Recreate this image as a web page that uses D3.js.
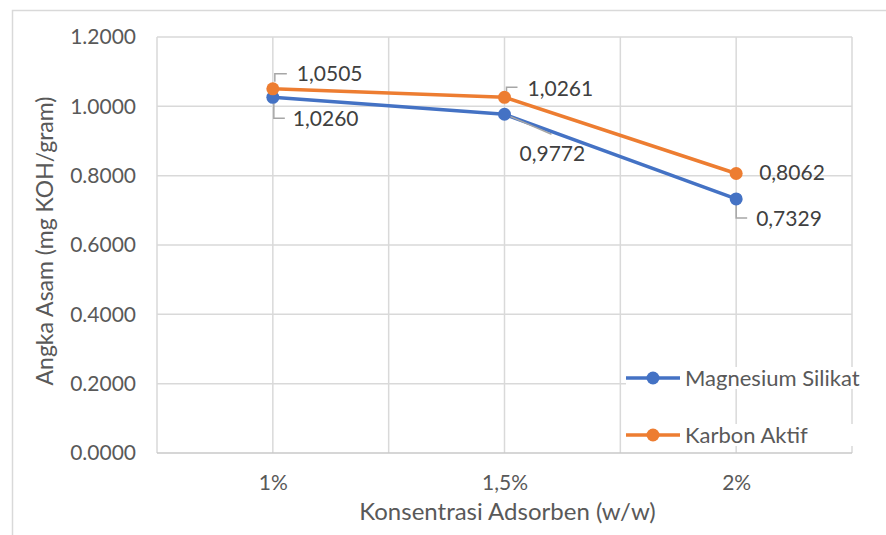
<!DOCTYPE html>
<html>
<head>
<meta charset="utf-8">
<script src="https://cdn.jsdelivr.net/npm/d3@7"></script>
<style>
  body { margin: 0; background: #fff; }
  svg { display: block; font-family: Lato, "Noto Sans", sans-serif; }
</style>
</head>
<body>
<svg id="chart" width="886" height="535"></svg>
<script>
// data
const categories = ['1%', '1,5%', '2%'];
const magnesiumSilikat = [1.0260, 0.9772, 0.7329];
const karbonAktif = [1.0505, 1.0261, 0.8062];
const yTicks = [0, 0.2, 0.4, 0.6, 0.8, 1.0, 1.2];

const series = [
  { name: 'Magnesium Silikat', values: magnesiumSilikat, color: '#4472C4' },
  { name: 'Karbon Aktif', values: karbonAktif, color: '#ED7D31' }
];

// where each data label sits relative to its point (leader = polyline offsets)
const labelPlacement = {
  'Karbon Aktif': [
    { dx: 24, dy: -15, leader: [[2, -7], [2, -15], [14, -15]] },
    { dx: 23, dy: -9, leader: [[2, -6], [2, -10], [13, -10]] },
    { dx: 23, dy: -1, leader: null }
  ],
  'Magnesium Silikat': [
    { dx: 20, dy: 21, leader: [[1, 6], [1, 21], [12, 21]] },
    { dx: 15, dy: 39, leader: [[3, 1], [47, 20]] },
    { dx: 20, dy: 20, leader: [[0, 6], [0, 19], [11, 19]] }
  ]
};

const textColor = '#595959';
const gridColor = '#D9D9D9';
const fontSize = 21;

const svg = d3.select('#chart');
const margin = { left: 157, right: 852, top: 37, bottom: 453 };

// outer chart frame (only top and left edges fall inside the picture)
svg.append('rect')
  .attr('x', 12.5).attr('y', 10.5)
  .attr('width', 900).attr('height', 600)
  .attr('fill', 'none')
  .attr('stroke', gridColor)
  .attr('stroke-width', 1.5);

const xBand = d3.scaleBand()
  .domain(categories)
  .range([margin.left, margin.right]);

const xScale = d3.scalePoint()
  .domain(categories)
  .range([margin.left, margin.right])
  .padding(0.5);

const yScale = d3.scaleLinear()
  .domain([0, 1.2])
  .range([margin.bottom, margin.top]);

// gridlines
const grid = svg.append('g');
grid.selectAll('line.h')
  .data(yTicks.filter(d => d > 0))
  .enter().append('line')
  .attr('x1', margin.left).attr('x2', margin.right)
  .attr('y1', d => yScale(d)).attr('y2', d => yScale(d))
  .attr('stroke', gridColor).attr('stroke-width', 1.5);

const vLines = [];
categories.forEach(c => {
  vLines.push(xBand(c));
  vLines.push(xBand(c) + xBand.bandwidth() / 2);
});
vLines.push(margin.right);
grid.selectAll('line.v')
  .data(vLines)
  .enter().append('line')
  .attr('x1', d => d).attr('x2', d => d)
  .attr('y1', margin.top).attr('y2', margin.bottom)
  .attr('stroke', gridColor).attr('stroke-width', 1.5);

// x axis line
svg.append('line')
  .attr('x1', margin.left).attr('x2', margin.right)
  .attr('y1', margin.bottom).attr('y2', margin.bottom)
  .attr('stroke', '#C8C8C8').attr('stroke-width', 1.5);

// y axis labels
const yAxis = svg.append('g')
  .attr('transform', `translate(${margin.left},0)`)
  .call(d3.axisLeft(yScale)
    .tickValues(yTicks)
    .tickFormat(d3.format('.4f'))
    .tickSize(0)
    .tickPadding(21));
yAxis.select('.domain').remove();
yAxis.selectAll('text')
  .attr('fill', textColor)
  .style('font-size', fontSize + 'px')
  .style('font-family', 'Lato');

// x axis labels
const xAxis = svg.append('g')
  .attr('transform', `translate(0,${margin.bottom})`)
  .call(d3.axisBottom(xScale).tickSize(0).tickPadding(22));
xAxis.select('.domain').remove();
xAxis.selectAll('text')
  .attr('fill', textColor)
  .style('font-size', fontSize + 'px')
  .style('font-family', 'Lato');

// axis titles
svg.append('text')
  .attr('transform', `translate(53,${(margin.top + margin.bottom) / 2 - 4}) rotate(-90)`)
  .attr('text-anchor', 'middle')
  .attr('fill', textColor)
  .style('font-size', '23px')
  .text('Angka Asam (mg KOH/gram)');

svg.append('text')
  .attr('x', (margin.left + margin.right) / 2 + 3)
  .attr('y', 520)
  .attr('text-anchor', 'middle')
  .attr('fill', textColor)
  .style('font-size', '24px')
  .text('Konsentrasi Adsorben (w/w)');

// legend (white boxes hide the gridlines behind the entries)
const legendY = [378, 435];
const legend = svg.append('g');
series.forEach((s, i) => {
  const g = legend.append('g').attr('transform', `translate(626,${legendY[i]})`);
  g.append('rect')
    .attr('x', 0).attr('y', -11).attr('width', 236).attr('height', 22)
    .attr('fill', '#fff');
  g.append('line')
    .attr('x1', 0).attr('x2', 54).attr('y1', 0).attr('y2', 0)
    .attr('stroke', s.color).attr('stroke-width', 3.5);
  g.append('circle')
    .attr('cx', 27).attr('cy', 0).attr('r', 6.5)
    .attr('fill', s.color);
  g.append('text')
    .attr('x', 59).attr('y', 0)
    .attr('dy', '0.36em')
    .attr('fill', textColor)
    .style('font-size', '22px')
    .text(s.name);
});

// lines and markers
const lineGen = d3.line()
  .x((d, i) => xScale(categories[i]))
  .y(d => yScale(d));

series.forEach(s => {
  svg.append('path')
    .datum(s.values)
    .attr('d', lineGen)
    .attr('fill', 'none')
    .attr('stroke', s.color)
    .attr('stroke-width', 3.5)
    .attr('stroke-linejoin', 'round');
});

// leader lines and data labels
const fmt = v => d3.format('.4f')(v).replace('.', ',');
series.forEach(s => {
  s.values.forEach((v, i) => {
    const px = xScale(categories[i]);
    const py = yScale(v);
    const p = labelPlacement[s.name][i];
    if (p.leader) {
      svg.append('polyline')
        .attr('points', p.leader.map(o => [px + o[0], py + o[1]].join(',')).join(' '))
        .attr('fill', 'none')
        .attr('stroke', '#A6A6A6')
        .attr('stroke-width', 1.5);
    }
    svg.append('text')
      .attr('x', px + p.dx)
      .attr('y', py + p.dy)
      .attr('dy', '0.36em')
      .attr('fill', '#404040')
      .style('font-size', fontSize + 'px')
      .text(fmt(v));
  });
});

series.forEach(s => {
  svg.append('g').selectAll('circle')
    .data(s.values)
    .enter().append('circle')
    .attr('cx', (d, i) => xScale(categories[i]))
    .attr('cy', d => yScale(d))
    .attr('r', 6.5)
    .attr('fill', s.color);
});
</script>
</body>
</html>
